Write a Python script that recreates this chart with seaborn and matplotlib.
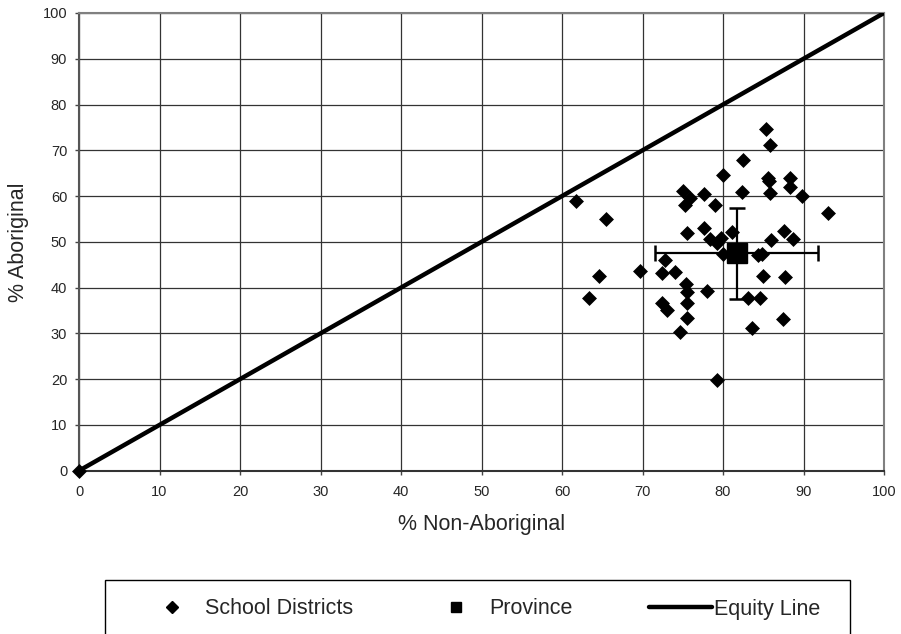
import matplotlib
matplotlib.use("Agg")
import matplotlib.pyplot as plt
from matplotlib.lines import Line2D
from matplotlib.patches import Rectangle
import pandas as pd
import seaborn as sns

# % completion, school districts: non-aboriginal vs aboriginal
non_aboriginal = [0.0, 61.7, 63.3, 64.6, 65.5, 69.7, 72.4, 72.8, 74.0, 72.4,
                  73.1, 74.6, 75.5, 75.5, 75.4, 75.5, 78.0, 75.0, 75.9, 75.3,
                  77.6, 79.0, 80.0, 82.3, 82.5, 85.3, 85.9, 85.6, 85.7, 85.8,
                  88.3, 88.3, 89.8, 93.0, 75.5, 77.6, 78.4, 79.2, 79.7, 81.1,
                  80.0, 84.3, 84.8, 86.0, 87.6, 88.7, 85.0, 87.7, 83.1, 84.6,
                  83.6, 87.4, 79.3]
aboriginal = [0.0, 58.9, 37.7, 42.5, 54.9, 43.7, 43.1, 46.0, 43.5, 36.7,
              35.2, 30.4, 36.6, 33.3, 40.7, 39.1, 39.3, 61.1, 59.6, 58.1,
              60.5, 58.0, 64.7, 61.0, 67.9, 74.6, 71.2, 63.9, 63.2, 60.6,
              64.0, 62.0, 60.0, 56.4, 51.9, 53.1, 50.6, 49.8, 50.9, 52.1,
              47.3, 47.2, 47.3, 50.3, 52.4, 50.7, 42.6, 42.3, 37.8, 37.8,
              31.1, 33.1, 19.8]

province_x = 81.7
province_y = 47.5
province_xerr = 10.1
province_yerr = 10.0

equity_x = [0, 100]
equity_y = [0, 100]

districts = pd.DataFrame({"x": non_aboriginal, "y": aboriginal})
equity = pd.DataFrame({"x": equity_x, "y": equity_y})

sns.set_style("white")
plt.rcParams["font.family"] = ["Liberation Sans", "DejaVu Sans"]

W, H = 901, 634
fig = plt.figure(figsize=(W / 100, H / 100), dpi=100)
ax = fig.add_axes([79 / W, 1 - 470.7 / H, 805 / W, 457.7 / H])

sns.lineplot(data=equity, x="x", y="y", color="black", linewidth=3.2,
             ax=ax, zorder=3)
sns.scatterplot(data=districts, x="x", y="y", marker="D", s=58,
                color="black", edgecolor="black", linewidth=0, ax=ax,
                zorder=4, clip_on=False)
ax.errorbar([province_x], [province_y], xerr=province_xerr, yerr=province_yerr,
            fmt="s", color="black", markersize=14, elinewidth=1.6,
            capsize=5.5, capthick=1.8, zorder=5)

ax.set_xlim(0, 100)
ax.set_ylim(0, 100)
ax.set_xticks(range(0, 101, 10))
ax.set_yticks(range(0, 101, 10))
ax.grid(True, color="#333333", linewidth=0.9)
ax.set_axisbelow(True)
for s in ax.spines.values():
    s.set_color("#808080")
    s.set_linewidth(1.5)
ax.spines["left"].set_color("#555555")
ax.spines["bottom"].set_color("#333333")
ax.tick_params(direction="out", length=3, width=1, color="#444444",
               labelsize=10.5, bottom=True, left=True)
ax.tick_params(axis="x", pad=7)
ax.tick_params(axis="y", pad=5.5)
ax.set_xlabel("% Non-Aboriginal", fontsize=15.5, labelpad=11)
ax.set_ylabel("% Aboriginal", fontsize=15.5, labelpad=10)

# legend: three entries placed along one framed strip at the bottom
legend_y = 1 - 609 / H
entries = [
    (Line2D([], [], marker="D", color="black", linestyle="none", markersize=6.5),
     "School Districts", 140),
    (Line2D([], [], marker="s", color="black", linestyle="none", markersize=7.5),
     "Province", 424),
    (Line2D([], [], color="black", linewidth=3.2), "Equity Line", 649),
]
for handle, label, x0 in entries:
    fig.legend([handle], [label], loc="center left",
               bbox_to_anchor=(x0 / W, legend_y), frameon=False,
               fontsize=15.5, handlelength=2.93, handletextpad=0.1,
               borderpad=0, borderaxespad=0)
fig.patches.append(Rectangle((105 / W, -0.02), 745 / W, (H - 580) / H + 0.02,
                             transform=fig.transFigure, fill=False,
                             edgecolor="black", linewidth=1))

fig.savefig("out.png", dpi=100)
